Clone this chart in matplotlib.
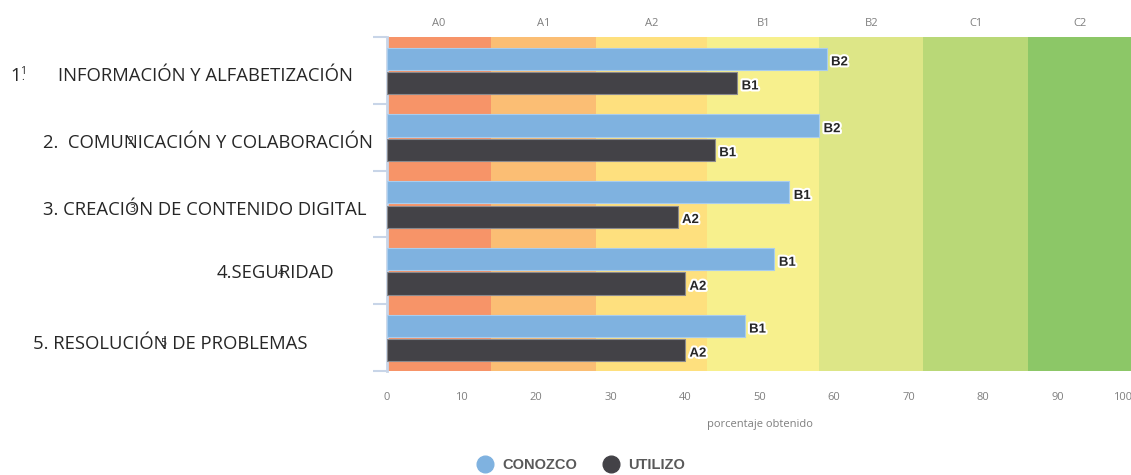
import matplotlib.pyplot as plt
import matplotlib.patheffects as pe
from matplotlib.transforms import blended_transform_factory
from matplotlib.lines import Line2D
import numpy as np

# datos
competencias = ["1", "2", "3", "4", "5"]
etiquetas = [
    "INFORMACIÓN Y ALFABETIZACIÓN",
    "2.  COMUNICACIÓN Y COLABORACIÓN",
    "3. CREACIÓN DE CONTENIDO DIGITAL",
    "4.SEGURIDAD",
    "5. RESOLUCIÓN DE PROBLEMAS",
]
conozco = [59, 58, 54, 52, 48]
utilizo = [47, 44, 39, 40, 40]
nivel_conozco = ["B2", "B2", "B1", "B1", "B1"]
nivel_utilizo = ["B1", "B1", "A2", "A2", "A2"]
niveles = ["A0", "A1", "A2", "B1", "B2", "C1", "C2"]
limites = [0, 14, 28, 43, 58, 72, 86, 100]
colores_nivel = ["#f79468", "#fbbe74", "#fee07e", "#f7f08d", "#dde687", "#b9d877", "#8cc767"]

plt.rcParams['font.family'] = ['Open Sans', 'DejaVu Sans']

fig = plt.figure(figsize=(11.31, 4.75), dpi=100)
ax = fig.add_axes([387 / 1131, 1 - 371 / 475, (1132 - 387) / 1131, (371 - 37) / 475])

y = np.arange(len(conozco))

# fondo de niveles
for i, nivel in enumerate(niveles):
    ax.barh(y, limites[i + 1] - limites[i], left=limites[i], height=1.0,
            color=colores_nivel[i], linewidth=0, zorder=1)
    ax.text((limites[i] + limites[i + 1]) / 2, 1.0 + 13 / 334, nivel,
            transform=blended_transform_factory(ax.transData, ax.transAxes),
            ha='center', va='center', fontsize=8, color='#7f7f7f')

# barras
ax.barh(y - 0.175, conozco, height=0.33, color='#7fb2e0', edgecolor='#a9cdee',
        linewidth=0.8, zorder=3)
ax.barh(y + 0.19, utilizo, height=0.33, color='#434247', edgecolor='#8a8a8e',
        linewidth=0.8, zorder=3)

efecto = [pe.withStroke(linewidth=3, foreground='white')]
for i in range(len(conozco)):
    ax.text(conozco[i] + 0.6, y[i] - 0.12, nivel_conozco[i], ha='left', va='center',
            fontsize=9.5, fontweight='bold', family='Liberation Sans', color='#262626',
            path_effects=efecto, zorder=5)
    ax.text(utilizo[i] + 0.6, y[i] + 0.24, nivel_utilizo[i], ha='left', va='center',
            fontsize=9.5, fontweight='bold', family='Liberation Sans', color='#262626',
            path_effects=efecto, zorder=5)

ax.set_xlim(0, 100)
ax.set_ylim(len(conozco) - 0.5, -0.5)
ax.set_xticks(range(0, 101, 10))
ax.tick_params(axis='x', length=0, pad=15, labelsize=8, labelcolor='#7f7f7f')
ultima = ax.get_xticklabels()[-1]
ultima.set_ha('right')
ax.set_yticks(np.arange(-0.5, len(conozco), 1.0))
ax.set_yticklabels([])
ax.tick_params(axis='y', length=10, width=1.5, color='#c8d5e8')
for s in ['top', 'right', 'bottom']:
    ax.spines[s].set_visible(False)
ax.spines['left'].set_color('#c8d5e8')
ax.spines['left'].set_linewidth(2)
ax.set_xlabel("porcentaje obtenido", fontsize=8, color='#7f7f7f', labelpad=12)

# etiquetas de competencias
tr = blended_transform_factory(fig.transFigure, ax.transData)
pos_x = [58, 43, 43, 217, 33]
desfase = [0.09, 0.09, 0.09, 0.04, 0.09]
for i, txt in enumerate(etiquetas):
    ax.text(pos_x[i] / 1131, y[i] + desfase[i], txt, transform=tr, ha='left', va='center',
            fontsize=13.3, color='#262626', clip_on=False)
ax.text(10 / 1131, y[0] + desfase[0], competencias[0], transform=tr, ha='left', va='center',
        fontsize=13.3, color='#262626', clip_on=False)

# numeros pequeños sueltos sobre las etiquetas
sueltos_x = [23, 130, 132, 281, 163]
sueltos_y = [72, 142, 210, 273, 343]
for i, n in enumerate(competencias):
    fig.text(sueltos_x[i] / 1131, 1 - sueltos_y[i] / 475, n, ha='center', va='center',
             fontsize=7.5, color='#262626')
fig.text(23 / 1131, 1 - 78 / 475, ".", ha='center', va='center', fontsize=7.5, color='#262626')

# leyenda
handles = [
    Line2D([], [], marker='o', linestyle='none', markersize=12, markerfacecolor='#7fb2e0',
           markeredgecolor='#7fb2e0', label='CONOZCO'),
    Line2D([], [], marker='o', linestyle='none', markersize=12, markerfacecolor='#434247',
           markeredgecolor='#434247', label='UTILIZO'),
]
leg = fig.legend(handles=handles, loc='center', bbox_to_anchor=(578 / 1131, 1 - 465 / 475),
                 ncol=2, frameon=False, handletextpad=0.2, columnspacing=1.3,
                 prop={'family': 'Liberation Sans', 'weight': 'bold', 'size': 10.5})
for t in leg.get_texts():
    t.set_color('#595959')

fig.savefig("out.png", dpi=100)
